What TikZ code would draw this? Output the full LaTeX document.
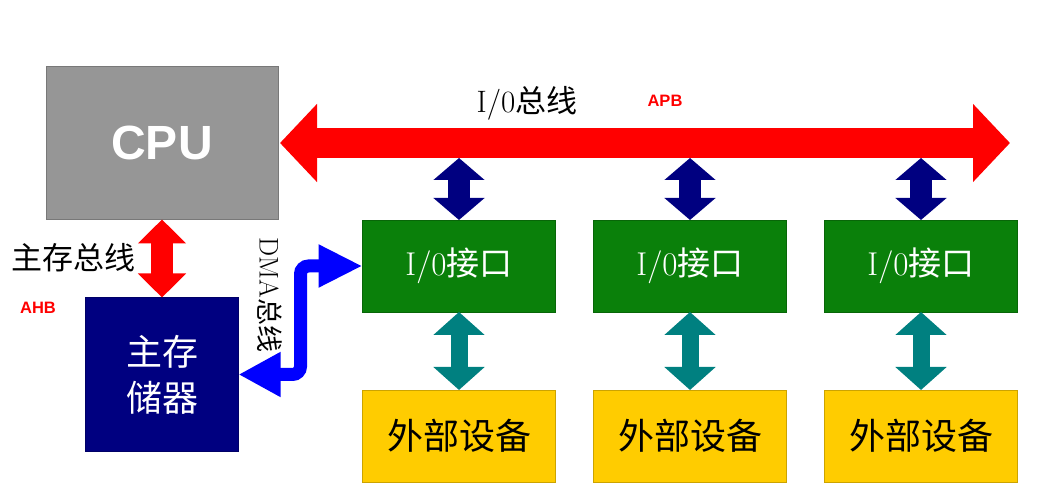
\documentclass[tikz,border=0pt]{standalone}
\usepackage{fontspec}
\newfontfamily\cjk{Noto Sans CJK SC}
\newfontfamily\arialfont{Liberation Sans}
\usetikzlibrary{arrows.meta,calc,positioning}
\definecolor{cpuGray}{HTML}{969696}
\definecolor{busRed}{HTML}{FF0000}
\definecolor{memNavy}{HTML}{000080}
\definecolor{ioGreen}{HTML}{0A800A}
\definecolor{devYellow}{HTML}{FFCC00}
\definecolor{linkTeal}{HTML}{008080}
\definecolor{dmaBlue}{HTML}{0000FF}
\newcommand{\labelsize}[1]{\fontsize{#1}{#1}\selectfont}

\begin{document}
\begin{tikzpicture}[
  x=1pt, y=-1pt,
  box/.style={
    line width=0.6pt,
    inner sep=0pt,
    outer sep=0pt,
    align=center
  },
  cpubox/.style={box, draw=cpuGray!80!black, fill=cpuGray, text=white,
    minimum width=232pt, minimum height=153pt,
    font=\arialfont\bfseries\labelsize{48}},
  membox/.style={box, draw=memNavy!80!black, fill=memNavy, text=white,
    minimum width=153pt, minimum height=154pt,
    font=\cjk\fontsize{36}{46}\selectfont},
  iobox/.style={box, draw=ioGreen!80!black, fill=ioGreen, text=white,
    minimum width=193pt, minimum height=92pt, font=\labelsize{33}},
  devbox/.style={box, draw=devYellow!80!black, fill=devYellow, text=black,
    minimum width=193pt, minimum height=92pt, font=\cjk\labelsize{36}},
  buslabel/.style={inner sep=0pt, text=black, font=\labelsize{31}},
  tag/.style={inner sep=0pt, text=busRed, font=\arialfont\bfseries\labelsize{16.5}},
  iobus/.style={draw=busRed, line width=30pt,
    arrows={Triangle[length=37pt,width=76pt]-Triangle[length=37pt,width=76pt]}},
  membus/.style={draw=busRed, line width=22pt,
    arrows={Triangle[length=24pt,width=47pt]-Triangle[length=24pt,width=47pt]}},
  iolink/.style={draw=memNavy, line width=22pt,
    arrows={Triangle[length=22pt,width=50pt]-Triangle[length=22pt,width=50pt]}},
  devlink/.style={draw=linkTeal, line width=17pt,
    arrows={Triangle[length=23pt,width=50pt]-Triangle[length=23pt,width=50pt]}},
  dmabus/.style={draw=dmaBlue, line width=13pt, rounded corners=8pt,
    arrows={Triangle[length=42pt,width=42pt]-Triangle[length=44pt,width=40pt]}}
]
\useasboundingbox (0,0) rectangle (1053,502);

% Processor and main memory on the left.
\node[cpubox] (cpu) at (162,143) {CPU};
\node[membox, below=78pt of cpu] (mem) {主存\\储器};

% Interface row with the devices below it.
\node[iobox] (io1) at (459,266) {I/0{\cjk 接口}};
\node[iobox, right=38pt of io1] (io2) {I/0{\cjk 接口}};
\node[iobox, right=38pt of io2] (io3) {I/0{\cjk 接口}};
\node[devbox, below=78pt of io1] (dev1) {外部设备};
\node[devbox, below=78pt of io2] (dev2) {外部设备};
\node[devbox, below=78pt of io3] (dev3) {外部设备};

% Bus labels.
\node[buslabel] (ioname) at (527,103.5) {I/0{\cjk 总线}};
\node[tag] (apb) at (665,101) {APB};
\node[buslabel, font=\cjk\labelsize{31}] (memname) at (74,257.5) {主存总线};
\node[tag] (ahb) at (38,307.5) {AHB};
\node[buslabel, rotate=-90, font=\labelsize{27}] (dmaname) at (270,295) {DMA{\cjk 总线}};

\coordinate (busstart) at ([xshift=2pt]cpu.east);
\coordinate (busend) at (1010,143);
\coordinate (busfoot) at (0,158);

% The I/O bus and its taps.
\draw[iobus] (busstart) -- (busend);
\foreach \n in {1,2,3} {
  \draw[iolink] (io\n.north) -- (io\n.north |- busfoot);
  \draw[devlink] (io\n.south) -- (dev\n.north);
}

% Memory bus and DMA path.
\draw[membus] (cpu.south) -- (mem.north);
\draw[dmabus] (mem.east) -| ($(mem.east)!0.5!(io1.west)$) |- (io1.west);

\end{tikzpicture}
\end{document}
